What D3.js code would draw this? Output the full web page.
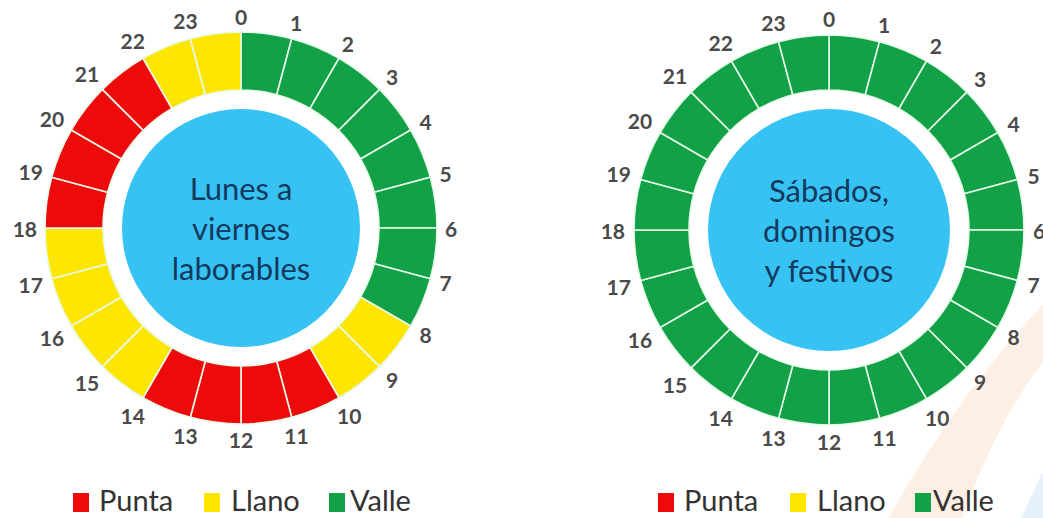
<!DOCTYPE html>
<html>
<head>
<meta charset="utf-8">
<script src="https://cdn.jsdelivr.net/npm/d3@7"></script>
<style>
  html, body { margin: 0; padding: 0; background: #ffffff; }
  svg { display: block; }
</style>
</head>
<body>
<svg id="chart" width="1043" height="518"></svg>
<script>
// ---- Data ----
const hourLabels = ["0","1","2","3","4","5","6","7","8","9","10","11","12","13","14","15","16","17","18","19","20","21","22","23"];
const weekdayPeriods = ["Valle","Valle","Valle","Valle","Valle","Valle","Valle","Valle",
                        "Llano","Llano","Punta","Punta","Punta","Punta","Llano","Llano",
                        "Llano","Llano","Punta","Punta","Punta","Punta","Llano","Llano"];
const weekendPeriods = ["Valle","Valle","Valle","Valle","Valle","Valle","Valle","Valle",
                        "Valle","Valle","Valle","Valle","Valle","Valle","Valle","Valle",
                        "Valle","Valle","Valle","Valle","Valle","Valle","Valle","Valle"];
const periodNames = ["Punta","Llano","Valle"];
const periodColors = ["#ee0a0a","#ffe600","#12a146"];
const weekdayTitle = ["Lunes a","viernes","laborables"];
const weekendTitle = ["Sábados,","domingos","y festivos"];

// ---- Layout ----
const svg = d3.select("#chart");
const color = d3.scaleOrdinal().domain(periodNames).range(periodColors);

// faint decorative watermark (background of the original image)
svg.append("path")
  .attr("d", "M 888 518 C 925 455, 975 375, 1043 305 L 1043 362 C 1010 405, 985 455, 962 518 Z")
  .attr("fill", "#fdefe4");
svg.append("path")
  .attr("d", "M 1021 518 L 1043 472 L 1043 518 Z")
  .attr("fill", "#e6f1fb");

function donut(cx, cy, periods, title, R) {
  const g = svg.append("g").attr("transform", `translate(${cx},${cy})`);
  const data = hourLabels.map((h, i) => ({ hour: h, period: periods[i] }));
  const pie = d3.pie().value(() => 1).sort(null);
  const arc = d3.arc().innerRadius(R.inner).outerRadius(R.outer);
  const arcs = pie(data);

  g.selectAll("path.seg").data(arcs).join("path")
    .attr("class", "seg")
    .attr("d", arc)
    .attr("fill", d => color(d.data.period))
    .attr("stroke", "#e6fbe9")
    .attr("stroke-width", 1.6);

  g.append("circle").attr("r", R.center).attr("fill", "#36c3f4");

  const labels = g.selectAll("text.hour").data(arcs).join("text")
    .attr("class", "hour")
    .attr("text-anchor", "middle")
    .attr("dominant-baseline", "central")
    .attr("font-family", "Lato, 'Open Sans', sans-serif")
    .attr("font-weight", "bold")
    .attr("font-size", 21)
    .attr("fill", "#4a4a4a")
    .text(d => d.data.hour);
  labels.each(function(d) {
    const w = this.getComputedTextLength();
    const a = d.startAngle;
    const r = R.label + (w / 2) * Math.abs(Math.sin(a)) + 7.5 * Math.abs(Math.cos(a));
    d3.select(this).attr("x", r * Math.sin(a)).attr("y", -r * Math.cos(a));
  });

  g.selectAll("text.title").data(title).join("text")
    .attr("class", "title")
    .attr("x", 0)
    .attr("y", (d, i) => -28 + i * 40)
    .attr("text-anchor", "middle")
    .attr("font-family", "Lato, 'Open Sans', sans-serif")
    .attr("font-size", 31)
    .attr("fill", "#15395d")
    .text(d => d);
}

donut(241, 228, weekdayPeriods, weekdayTitle, { outer: 196, inner: 138, center: 119, label: 204 });
donut(829, 230, weekendPeriods, weekendTitle, { outer: 195, inner: 140, center: 121, label: 204 });

function legend(squareX, textX, baseY) {
  const g = svg.append("g");
  const items = g.selectAll("g.item").data(periodNames).join("g").attr("class", "item");
  items.append("rect")
    .attr("x", (d, i) => squareX[i]).attr("y", baseY - 18)
    .attr("width", 16).attr("height", 19)
    .attr("fill", d => color(d));
  items.append("text")
    .attr("x", (d, i) => textX[i]).attr("y", baseY)
    .attr("font-family", "Lato, 'Open Sans', sans-serif")
    .attr("font-size", 29)
    .attr("fill", "#333333")
    .text(d => d);
}

legend([73, 204, 329], [99, 231, 350], 511);
legend([658, 790, 915], [684, 817, 933], 511);
</script>
</body>
</html>
